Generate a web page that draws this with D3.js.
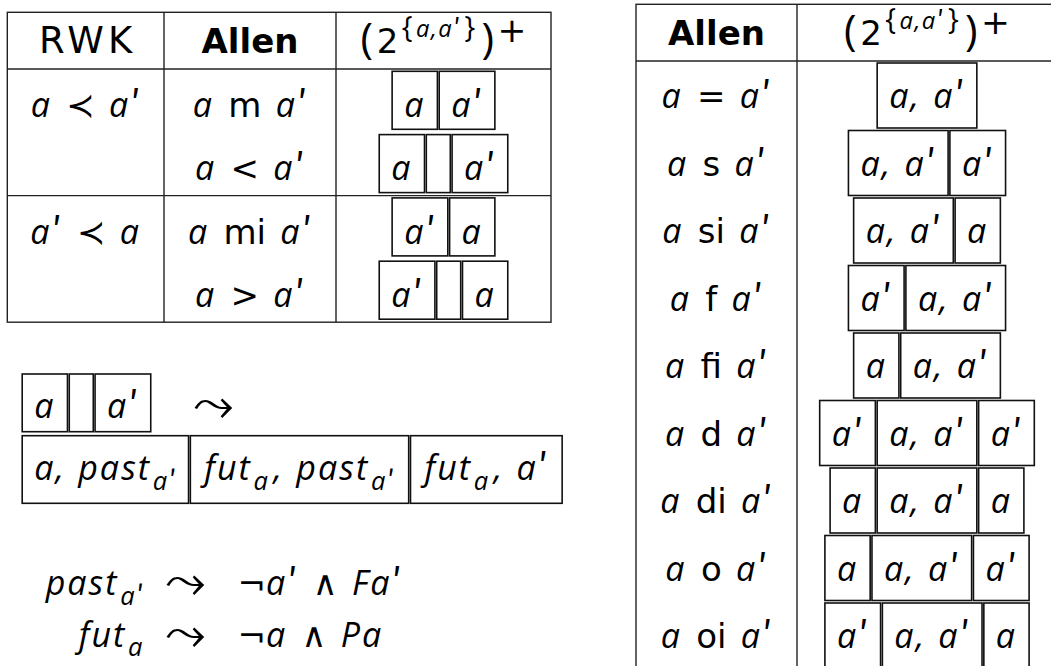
<!DOCTYPE html>
<html>
<head>
<meta charset="utf-8">
<script src="https://cdn.jsdelivr.net/npm/d3@7"></script>
<style>
html, body { margin: 0; padding: 0; background: #fff; }
svg { display: block; }
</style>
</head>
<body>
<svg id="fig" width="1051" height="666"></svg>
<script>

// ---- data (tiny TeX-like strings) ----
var leftHeaders = ["\\rm{RWK}", "\\bf{Allen}", "\\big( \\rm{2}^{\\{a,a'\\}} \\big)^[0.34]{+}"];
var rwkLabels = ["a \\prec a'", "", "a' \\prec a", ""];
var leftAllen = ["a \\rel{m} a'", "a < a'", "a \\rel{mi} a'", "a > a'"];
var leftSegments = [["a", "a'"], ["a", "", "a'"], ["a'", "a"], ["a'", "", "a"]];

var rightHeaders = ["\\bf{Allen}", "\\big( \\rm{2}^{\\{a,a'\\}} \\big)^[0.34]{+}"];
var rightAllen = ["a = a'", "a \\rel{s} a'", "a \\rel{si} a'", "a \\rel{f} a'", "a \\rel{fi} a'",
                  "a \\rel{d} a'", "a \\rel{di} a'", "a \\rel{o} a'", "a \\rel{oi} a'"];
var rightSegments = [["a, a'"], ["a, a'", "a'"], ["a, a'", "a"], ["a'", "a, a'"], ["a", "a, a'"],
                     ["a'", "a, a'", "a'"], ["a", "a, a'", "a"], ["a", "a, a'", "a'"], ["a'", "a, a'", "a"]];

var exampleSegments = ["a", "", "a'"];
var exampleResult = ["a, past_{a'}", "fut_a, past_{a'}", "fut_a, a'"];
var rewriteLhs = ["past_{a'}", "fut_a"];
var rewriteRhs = ["\\neg a' \\wedge Fa'", "\\neg a \\wedge Pa"];

// ---- tiny math typesetter ----
var SYMBOLS = {prec: "\u227A", leadsto: "\u2933", wedge: "\u2227", neg: "\u00AC"};
var FONTS = {
    it:  {family: "'Open Sans'", style: "italic", weight: 400, ls: 0.06},
    pr:  {family: "'Noto Sans CJK JP'", style: "normal", weight: 400, ls: 0},
    rm:  {family: "'DejaVu Sans'", style: "normal", weight: 400, ls: 0},
    bf:  {family: "'DejaVu Sans'", style: "normal", weight: 700, ls: 0},
    sym: {family: "'DejaVu Sans'", style: "normal", weight: 400, ls: 0},
    del: {family: "'Open Sans'", style: "normal", weight: 400, ls: 0}
};
var THICK = 0.42, MED = 0.42, THIN = 0.36, PRIME_ADV = 0.3;

var svg = d3.select("#fig");

// advance of the prime glyph, so the following atom keeps a fixed distance
var probe = svg.append("text").attr("font-family", FONTS.pr.family).attr("font-size", 100).text("\u2032");
var primeAdv = probe.node().getComputedTextLength() / 100;
probe.remove();

var parseMath = function (src) {
    var i = 0;
    var readArg = function () {
        if (src[i] === "{") { i++; return readGroup(); }
        var c = src[i]; i++;
        return [{kind: "ord", text: c, font: /[A-Za-z]/.test(c) ? "it" : "sym"}];
    };
    var readGroup = function () {
        var atoms = [];
        while (i < src.length) {
            var c = src[i];
            if (c === "}") { i++; return atoms; }
            if (c === " ") { i++; continue; }
            if (c === "'") { i++; atoms.push({kind: "prime", text: "\u2032", font: "pr", scale: 1.1}); continue; }
            if (c === "_" || c === "^") {
                i++;
                var raise = null;
                if (src[i] === "[") { var e = src.indexOf("]", i); raise = +src.slice(i + 1, e); i = e + 1; }
                var arg = readArg(), base = atoms[atoms.length - 1];
                if (c === "_") base.sub = arg; else { base.sup = arg; base.raise = raise; }
                continue;
            }
            if (c === "\\") {
                i++;
                if (src[i] === "{" || src[i] === "}") {
                    atoms.push({kind: src[i] === "{" ? "open" : "close", text: src[i], font: "del", scale: 1.2});
                    i++; continue;
                }
                var name = /^[a-z]+/.exec(src.slice(i))[0];
                i += name.length;
                if (name === "rm" || name === "bf" || name === "rel") {
                    var end = src.indexOf("}", i);
                    atoms.push({kind: name === "rel" ? "rel" : "ord", text: src.slice(i + 1, end),
                                font: name === "bf" ? "bf" : "rm"});
                    i = end + 1;
                } else if (name === "big") {
                    var d = src[i]; i++;
                    atoms.push({kind: d === "(" ? "open" : "close", text: d, font: "del", scale: 1.25});
                } else if (name === "leadsto") {
                    atoms.push({kind: "rel", text: SYMBOLS[name], font: "sym", scale: 1.5, drop: 0.09});
                } else {
                    atoms.push({kind: name === "wedge" ? "bin" : (name === "neg" ? "ord" : "rel"),
                                text: SYMBOLS[name], font: "sym"});
                }
                continue;
            }
            if (/[A-Za-z]/.test(c)) {
                var w = /^[A-Za-z]+/.exec(src.slice(i))[0];
                i += w.length;
                atoms.push({kind: "ord", text: w, font: "it"});
                continue;
            }
            if (c === "=" || c === "<" || c === ">") { i++; atoms.push({kind: "rel", text: c, font: "sym"}); continue; }
            if (c === ",") { i++; atoms.push({kind: "punct", text: ",", font: "it"}); continue; }
            if (c === "+") { i++; atoms.push({kind: "ord", text: c, font: "sym", scale: 1.45}); continue; }
            i++;
            atoms.push({kind: "ord", text: c, font: "sym"});
        }
        return atoms;
    };
    return readGroup();
};

var spaceBetween = function (a, b, script) {
    if (!a || b.kind === "prime") return 0;
    if (script) return 0;
    if (a.kind === "punct") return THIN;
    if (a.kind === "rel" || b.kind === "rel") return THICK;
    if (a.kind === "bin" || b.kind === "bin") return MED;
    return 0;
};

var emit = function (text, atoms, size, baseShift, st, script) {
    var prev = null;
    atoms.forEach(function (a) {
        var f = FONTS[a.font],
            fs = size * (a.scale || 1),
            shift = baseShift + (a.drop || 0) * size;
        text.append("tspan")
            .attr("dx", Math.max(0, spaceBetween(prev, a, script) * size + st.extra))
            .attr("dy", shift - st.shift)
            .attr("font-family", f.family)
            .attr("font-style", f.style)
            .attr("font-weight", f.weight)
            .attr("font-size", fs)
            .attr("letter-spacing", f.ls ? f.ls * fs : null)
            .text(a.text);
        st.shift = shift;
        st.extra = a.kind === "prime" ? (PRIME_ADV - primeAdv) * fs : 0;
        if (a.sup) {
            emit(text, a.sup, size * 0.7, baseShift - (a.raise != null ? a.raise : 0.48) * size, st, true);
            st.extra += 0.08 * size;
        }
        if (a.sub) {
            st.extra += 0.05 * size;
            emit(text, a.sub, size * 0.75, baseShift + 0.28 * size, st, true);
            st.extra += 0.12 * size;
        }
        prev = a;
    });
};

var mathText = function (parent, src, size) {
    var t = parent.append("text").attr("fill", "#000");
    emit(t, parseMath(src), size, 0, {shift: 0, extra: 0}, false);
    return t;
};

// ---- drawing ----
var line = "#222", SIZE = 34, PAD = 12, GAP = 1.8;
var headerSpacing = [4, null, 3.5];

var boxRow = function (parent, segs, x0, y, h, baseline, align) {
    var g = parent.append("g");
    var items = segs.map(function (s) {
        var t = s ? mathText(g, s, SIZE) : null;
        return {t: t, w: (t ? t.node().getBBox().width : 0) + 2 * PAD};
    });
    var total = d3.sum(items, function (d) { return d.w; }) + GAP * (items.length - 1);
    var x = align === "start" ? x0 : x0 - total / 2;
    items.forEach(function (d) {
        g.insert("rect", "text")
            .attr("x", x).attr("y", y).attr("width", d.w).attr("height", h)
            .attr("fill", "none").attr("stroke", "#111").attr("stroke-width", 1.6);
        if (d.t) d.t.attr("x", x + d.w / 2).attr("y", baseline).attr("text-anchor", "middle");
        x += d.w + GAP;
    });
};

var frame = function (cols, top, head, bottom) {
    var g = svg.append("g").attr("fill", "none").attr("stroke", line).attr("stroke-width", 1.4);
    g.append("rect").attr("x", cols[0]).attr("y", top)
        .attr("width", cols[cols.length - 1] - cols[0]).attr("height", bottom - top);
    g.selectAll(".col").data(cols.slice(1, -1)).enter().append("line")
        .attr("x1", function (d) { return d; }).attr("x2", function (d) { return d; })
        .attr("y1", top).attr("y2", bottom);
    g.append("line").attr("x1", cols[0]).attr("x2", cols[cols.length - 1]).attr("y1", head).attr("y2", head);
    return g;
};

// left table
var leftCols = [7.3, 164, 336, 551];
var yL = d3.scaleBand().domain(d3.range(leftAllen.length)).range([69, 322.2]);
var lf = frame(leftCols, 12.3, 69, 322.2);
lf.selectAll(".grp").data(rwkLabels.filter(function (d, i) { return d && i > 0; })).enter().append("line")
    .attr("x1", leftCols[0]).attr("x2", leftCols[3])
    .attr("y1", function (d) { return yL(rwkLabels.indexOf(d)); })
    .attr("y2", function (d) { return yL(rwkLabels.indexOf(d)); });

leftHeaders.forEach(function (h, c) {
    mathText(svg, h, c === 0 ? 37 : SIZE).attr("x", (leftCols[c] + leftCols[c + 1]) / 2 + (headerSpacing[c] || 0) / 2)
        .attr("y", 53.3).attr("text-anchor", "middle").attr("letter-spacing", headerSpacing[c]);
});
leftAllen.forEach(function (d, i) {
    var b = yL(i) + 48;
    if (rwkLabels[i]) mathText(svg, rwkLabels[i], SIZE).attr("x", (leftCols[0] + leftCols[1]) / 2).attr("y", b).attr("text-anchor", "middle");
    mathText(svg, d, SIZE).attr("x", (leftCols[1] + leftCols[2]) / 2).attr("y", b).attr("text-anchor", "middle");
    boxRow(svg, leftSegments[i], (leftCols[2] + leftCols[3]) / 2, yL(i) + 2.3, 58, b, "middle");
});

// right table
var rightCols = [636, 797, 1057];
var yR = d3.scaleBand().domain(d3.range(rightAllen.length)).range([61, 668.5]);
frame(rightCols, 4.3, 61, 668.5);
rightHeaders.forEach(function (h, c) {
    var ls = headerSpacing[c + 1];
    mathText(svg, h, SIZE).attr("x", (rightCols[c] + rightCols[c + 1]) / 2 + (ls || 0) / 2)
        .attr("y", 45.3).attr("text-anchor", "middle").attr("letter-spacing", ls);
});
rightAllen.forEach(function (d, i) {
    var b = yR(i) + 47;
    mathText(svg, d, SIZE).attr("x", (rightCols[0] + rightCols[1]) / 2).attr("y", b).attr("text-anchor", "middle");
    boxRow(svg, rightSegments[i], (rightCols[1] + rightCols[2]) / 2, yR(i) + 2, 65, b, "middle");
});

// example: gap between a and a' becomes past / fut
boxRow(svg, exampleSegments, 22.2, 374, 57.7, 418, "start");
mathText(svg, "\\leadsto", SIZE).attr("x", 193).attr("y", 418);
boxRow(svg, exampleResult, 22.2, 435.7, 67.6, 480, "start");

var yRw = d3.scalePoint().domain(rewriteLhs).range([595, 646.7]);
rewriteLhs.forEach(function (d, i) {
    mathText(svg, d, SIZE).attr("x", 144).attr("y", yRw(d)).attr("text-anchor", "end");
    mathText(svg, "\\leadsto", SIZE).attr("x", 165).attr("y", yRw(d));
    mathText(svg, rewriteRhs[i], SIZE).attr("x", 237.5).attr("y", yRw(d));
});

</script>
</body>
</html>
